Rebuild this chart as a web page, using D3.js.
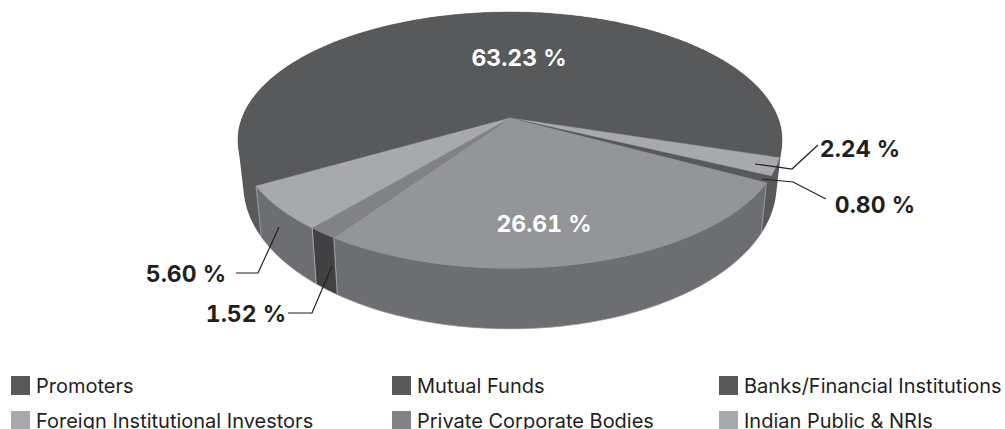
<!DOCTYPE html>
<html><head><meta charset="utf-8">
<script src="https://cdn.jsdelivr.net/npm/d3@7/dist/d3.min.js"></script>
<style>html,body{margin:0;padding:0;background:#fff;overflow:hidden}svg{display:block}text{font-family:Inter,Lato,"Noto Sans",sans-serif}.val{font-variant-numeric:tabular-nums}</style>
</head><body><svg id="c" width="1005" height="429"></svg>
<script>
const values=[63.23,2.24,0.80,26.61,1.52,5.60];
const valueLabels=["63.23 %","2.24 %","0.80 %","26.61 %","1.52 %","5.60 %"];
const topColors=["#58595b","#a7a9ac","#58595b","#939598","#808285","#a7a9ac"];
const sideColors=["#58595b","#58595b","#58595b","#6d6e71","#414042","#6d6e71"];
const sideStrokes=["none","none","none","#bcbec0","#bcbec0","#bcbec0"];
const legendNames=["Promoters","Mutual Funds","Banks/Financial Institutions","Foreign Institutional Investors","Private Corporate Bodies","Indian Public & NRIs"];
const legendColors=["#58595b","#58595b","#58595b","#a7a9ac","#808285","#a7a9ac"];

(function(){
const svg=d3.select("#c");
const deg=Math.PI/180;
const pie=d3.pie().sort(null).startAngle(240*deg).endAngle(600*deg);
const arcs=pie(values);
const k=-0.172,cxp=510,cyp=118,sx=268,sy=124.2;
function topPt(a){const x=Math.sin(a),y=-Math.cos(a),w=1+k*y;return [cxp+sx*x/w,cyp+sy*y/w];}
function botPt(a){const p=topPt(a);return [cxp+(p[0]-cxp)*0.98,p[1]+42.5+0.123*(p[1]-cyp)];}
const line=d3.line();
function arcPts(d,f){const n=Math.max(4,Math.ceil((d.endAngle-d.startAngle)/(1*deg)));
  return d3.range(n+1).map(i=>f(d.startAngle+(d.endAngle-d.startAngle)*i/n));}
const all=arcs.flatMap(d=>arcPts(d,topPt).concat(arcPts(d,botPt)));
svg.append("path").attr("d",line(d3.polygonHull(all))+"Z").attr("fill",sideColors[0]);
arcs.forEach((d,i)=>{
  if(sideStrokes[i]==="none")return;
  const a=arcPts(d,topPt),b=arcPts(d,botPt).reverse();
  svg.append("path").attr("d",line(a.concat(b))+"Z").attr("fill",sideColors[i]).attr("stroke",sideStrokes[i]).attr("stroke-width",0.6);
});
arcs.forEach((d,i)=>{
  const a=arcPts(d,topPt);
  svg.append("path").attr("d",line([[cxp,cyp]].concat(a))+"Z").attr("fill",topColors[i]).attr("stroke",topColors[i]).attr("stroke-width",0.4);
});
const leaders=[
 [[755,164],[792,169],[818,145]],
 [[762,179],[793,182],[826,199]],
 [[279,227],[258,273],[236,273]],
 [[332,266],[312,313],[288,313]]];
leaders.forEach(l=>svg.append("path").attr("d",line(l)).attr("fill","none").attr("stroke","#231f20").attr("stroke-width",1.2));
const labelPos=[[519,66,"#fff"],[860,157,"#231f20"],[875,213,"#231f20"],[544,232,"#fff"],[246,322,"#231f20"],[186,282,"#231f20"]];
valueLabels.forEach((t,i)=>{const p=labelPos[i];
 svg.append("text").attr("class","val").attr("x",p[0]).attr("y",p[1]).attr("text-anchor","middle").attr("fill",p[2]).attr("font-size",23).attr("font-weight",700).text(t);});
const xs=[11,392,719];
legendNames.forEach((t,i)=>{const c=i%3,r=Math.floor(i/3),x=xs[c],y=376+r*35;
 svg.append("rect").attr("x",x).attr("y",y).attr("width",19).attr("height",19).attr("fill",legendColors[i]);
 svg.append("text").attr("x",x+25).attr("y",y+17).attr("font-size",20).attr("fill","#231f20").text(t);});
})();
</script></body></html>
